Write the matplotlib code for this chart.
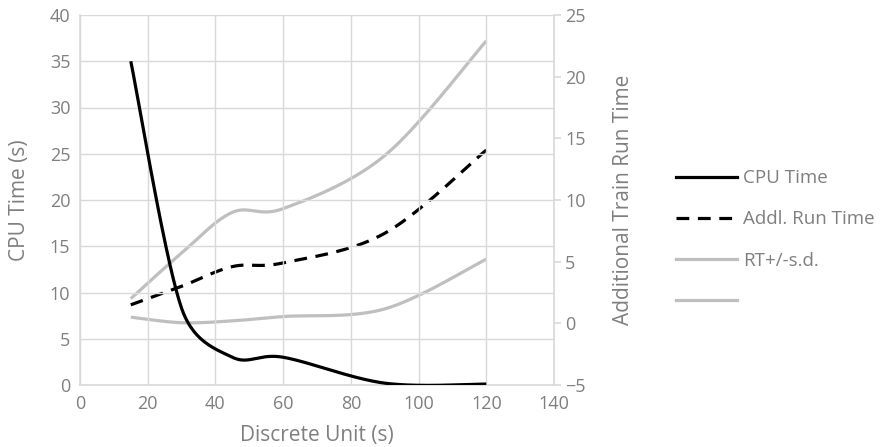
import numpy as np
import matplotlib
matplotlib.use('Agg')
import matplotlib.pyplot as plt
from matplotlib.lines import Line2D

# values
units = [15, 30, 45, 60, 90, 120]
cpu_time = [35.0, 8.3, 3.0, 3.0, 0.2, 0.1]
addl_run_time = [1.5, 3.0, 4.6, 4.9, 7.3, 14.05]
rt_plus_sd = [2.0, 5.7, 9.0, 9.3, 13.6, 22.9]
rt_minus_sd = [0.5, 0.05, 0.2, 0.55, 1.17, 5.2]

legend_labels = ['CPU Time', 'Addl. Run Time', 'RT+/-s.d.', '']

GREY_TXT = '#7f7f7f'
GRID = '#d9d9d9'
LIGHT = '#bfbfbf'
DASH = (0, (4.0, 2.7))


def smooth(axis, xs, ys, n=40):
    # Excel-like smoothed line: bezier segments built in screen space,
    # control arms = (next - prev)/6, capped at half the segment length
    pts = axis.transData.transform(np.column_stack([xs, ys]))
    m = len(pts)
    curve = []
    t = np.linspace(0, 1, n)[:, None]

    def arm(vec, seg_len):
        length = np.hypot(*vec)
        if length > seg_len / 2:
            vec = vec * (seg_len / 2) / length
        return vec

    for i in range(m - 1):
        p1, p2 = pts[i], pts[i + 1]
        d12 = np.hypot(*(p2 - p1))
        prev = pts[i - 1] if i > 0 else p1
        nxt = pts[i + 2] if i < m - 2 else p2
        c1 = p1 + arm((p2 - prev) / 6, d12)
        c2 = p2 - arm((nxt - p1) / 6, d12)
        seg = ((1 - t) ** 3 * p1 + 3 * (1 - t) ** 2 * t * c1
               + 3 * (1 - t) * t ** 2 * c2 + t ** 3 * p2)
        curve.append(seg)
    curve = axis.transData.inverted().transform(np.vstack(curve))
    return curve[:, 0], curve[:, 1]


plt.rcParams['font.family'] = ['Open Sans', 'DejaVu Sans']

fig = plt.figure(figsize=(8.81, 4.47), dpi=100)
ax = fig.add_axes([80 / 881, 1 - 385 / 447, (554 - 80) / 881, 370 / 447])
ax2 = ax.twinx()

ax.set_xlim(0, 140)
ax.set_ylim(0, 40)
ax2.set_ylim(-5, 25)
ax.set_xticks(np.arange(0, 141, 20))
ax.set_yticks(np.arange(0, 41, 5))
ax2.set_yticks(np.arange(-5, 26, 5))

ax.grid(True, color=GRID, lw=1.0)
ax.set_axisbelow(True)

for a in (ax, ax2):
    for s in a.spines.values():
        s.set_visible(False)
ax.spines['left'].set_visible(True)
ax.spines['bottom'].set_visible(True)
ax2.spines['right'].set_visible(True)
for s in (ax.spines['left'], ax.spines['bottom'], ax2.spines['right']):
    s.set_color(GRID)
    s.set_linewidth(1.2)

ax.tick_params(axis='both', length=0, labelsize=13, labelcolor=GREY_TXT)
ax.tick_params(axis='x', pad=7)
ax.tick_params(axis='y', pad=7)
ax2.tick_params(axis='y', length=5, color=GRID, width=1.2, labelsize=13,
                labelcolor=GREY_TXT, pad=3)

ax.set_xlabel('Discrete Unit (s)', fontsize=15, color=GREY_TXT, labelpad=9)
ax.set_ylabel('CPU Time (s)', fontsize=15, color=GREY_TXT, labelpad=14)
ax2.set_ylabel('Additional Train Run Time', fontsize=15, color=GREY_TXT, labelpad=20)

sx, sy = smooth(ax2, units, rt_plus_sd)
ax2.plot(sx, sy, color=LIGHT, lw=2.3, solid_capstyle='butt')
sx, sy = smooth(ax2, units, rt_minus_sd)
ax2.plot(sx, sy, color=LIGHT, lw=2.3, solid_capstyle='butt')
sx, sy = smooth(ax2, units, addl_run_time)
ax2.plot(sx, sy, color='black', lw=2.3, ls=DASH, dash_capstyle='butt')
sx, sy = smooth(ax, units, cpu_time)
ax.plot(sx, sy, color='black', lw=2.3, solid_capstyle='butt', zorder=5)
ax.set_zorder(ax2.get_zorder() + 1)
ax.patch.set_visible(False)

handles = [
    Line2D([], [], color='black', lw=2.3),
    Line2D([], [], color='black', lw=2.3, ls=DASH),
    Line2D([], [], color=LIGHT, lw=2.3),
    Line2D([], [], color=LIGHT, lw=2.3),
]
fig.legend(handles, legend_labels, loc='center left',
           bbox_to_anchor=(668 / 881, 1 - 240 / 447), frameon=False,
           fontsize=13.5, labelcolor=GREY_TXT, handlelength=3.3,
           handletextpad=0.3, labelspacing=1.23, borderaxespad=0)

fig.savefig('out.png', dpi=100)
